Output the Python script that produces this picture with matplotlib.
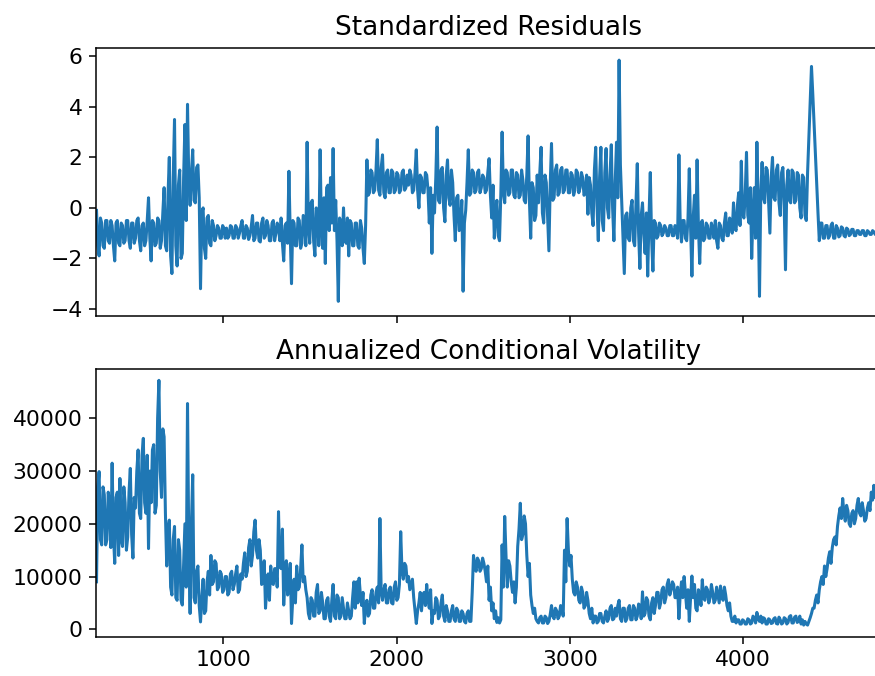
import numpy as np
import matplotlib
matplotlib.use("Agg")
import matplotlib.pyplot as plt

# observation index of first value and spacing between values
index_start = 268
index_step = 7.5

# Standardized residuals
std_resid = [
    -0.1, -1.5, -1.9, -0.4, -0.6, -1.5, -1.6, -0.5, -0.5, -1.3, -1.4, -0.5, -0.7, -1.5, -2.1, -0.6, -0.5, -1.4, -1.5, -0.6,
    -0.7, -1.4, -1.3, -0.5, -0.5, -1.3, -1.6, -0.6, -0.6, -1.4, -1.2, -0.5, -0.4, -1.3, -1.7, -0.7, -0.6, -1.5, -1.3, -0.5,
    0.4, -1.2, -2.1, -0.5, -0.6, -1.5, -1.4, -0.4, -0.5, -1.6, -1.3, -0.2, 0.8, -1.5, -1.7, 0.5, 2.0, -1.9, -2.6, 1.2,
    3.5, -1.5, -2.3, 0.9, 1.5, -2.0, -1.8, 1.2, 3.3, -0.5, 4.1, 1.0, 0.1, 1.4, 2.3, 0.3, 0.2, 1.6, 1.7, 0.4,
    -3.2, -0.2, 0.0, -1.6, -2.0, -0.4, -0.3, -1.4, -1.5, -0.5, -0.7, -1.3, -1.1, -0.7, -0.8, -1.2, -1.2, -0.7, -0.8, -1.2,
    -0.8, -1.2, -1.1, -0.7, -0.75, -1.2, -1.2, -0.7, -0.8, -1.2, -1.0, -0.7, -0.5, -1.2, -1.2, -0.7, -0.8, -1.25, -1.1, -0.75,
    -0.3, -1.3, -1.2, -0.6, -0.6, -1.3, -1.35, -0.6, -0.4, -1.2, -1.1, -0.5, -0.7, -1.3, -1.3, -0.6, -0.5, -1.3, -1.0, -0.6,
    -0.8, -1.3, -0.4, -1.4, -2.1, -0.7, -0.6, -1.4, 1.45, -1.0, -3.0, -0.5, -0.6, -1.5, -1.5, -0.4, -0.5, -1.6, -1.4, -0.3,
    -0.4, -1.5, 2.6, -0.8, -1.4, 0.2, 0.3, -1.3, -1.9, 0.0, -0.2, -1.5, 2.3, -0.8, -1.6, 0.4, -2.2, 0.8, 0.9, -0.9,
    1.2, -0.6, 2.35, -0.9, 0.3, -1.3, -3.7, -0.4, -0.6, -1.5, 0.0, -1.2, -1.4, -0.4, -1.9, -0.5, -0.6, -1.5, -1.5, -0.6,
    -0.6, -1.5, -1.6, -0.5, -0.8, -1.6, -2.2, -0.7, 1.9, 0.5, 0.6, 1.5, 1.4, 0.6, 0.7, 1.5, 2.7, 0.7, 0.5, 1.6,
    2.1, 0.6, 0.4, 1.4, 1.5, 0.6, 0.6, 1.5, 1.4, 0.6, 0.7, 1.4, 1.3, 0.6, 0.7, 1.4, 1.5, 0.7, 0.8, 1.3,
    0.9, 1.5, 1.3, 0.6, 0.7, 1.4, 2.3, 0.7, 0.0, 1.3, 1.2, 0.6, 0.6, 1.4, 1.3, 0.7, -0.6, 0.8, -1.8, 0.5,
    -0.2, 1.2, 3.2, 0.3, 0.2, 1.5, 1.6, 0.0, -0.55, 1.3, 1.9, 0.4, 0.1, 1.5, 1.0, -0.3, -1.3, 0.4, 0.5, -0.9,
    -0.8, 0.3, -3.3, -0.6, -0.1, 1.0, 2.3, 0.5, 0.6, 1.5, 1.4, 0.6, 0.7, 1.4, 1.5, 0.6, 0.8, 1.3, 1.2, 0.6,
    0.7, 1.4, 1.95, 0.5, -0.4, 0.9, -1.2, -0.2, 0.3, -1.1, -1.3, 0.5, 3.0, 0.6, 0.2, 1.5, 1.4, 0.5, 0.6, 1.5,
    1.5, 0.5, 0.4, 1.4, 1.3, 0.4, 0.5, 1.5, 1.1, 0.3, 0.2, 1.3, 2.85, 0.3, -1.2, 1.0, 0.8, -0.5, -0.3, 1.3,
    0.2, 1.4, 2.4, -0.2, -0.6, 1.3, 1.0, -0.4, -1.7, 0.9, 2.55, 0.3, 0.4, 1.5, 1.7, 0.5, 0.6, 1.5, 1.6, 0.6,
    0.7, 1.5, 1.5, 0.6, 0.6, 1.4, 1.3, 0.5, 0.7, 1.5, 1.4, 0.6, 0.8, 1.4, 1.2, 0.5, 0.6, 1.3, -0.25, 1.2,
    0.9, -0.2, -0.7, 1.5, 2.4, 0.1, -1.3, 1.2, 2.4, -0.5, -0.9, 1.4, 2.35, 0.0, -0.4, 1.3, 2.5, 0.0, -1.3, 1.0,
    2.6, 0.4, 5.85, 1.7, 0.3, -1.0, -2.6, -0.3, -0.2, -1.2, -1.3, 0.0, 0.3, -1.3, -1.5, 0.2, 1.75, -1.0, -2.4, -0.3,
    0.2, -1.0, -1.8, -0.2, -2.7, -0.4, 1.4, -1.2, -2.5, -0.5, -0.6, -1.2, -1.1, -0.6, -0.7, -1.1, -1.0, -0.7, -0.8, -1.1,
    -1.1, -0.7, -0.7, -1.1, -1.1, -0.7, -0.8, -1.2, 2.1, -0.6, -1.35, -0.5, -0.5, -1.2, -1.3, -0.4, 1.55, -0.8, -2.7, -0.4,
    0.5, -1.2, 1.9, -0.7, -2.2, -0.6, -0.5, -1.3, -1.2, -0.6, -0.7, -1.2, -1.2, -0.6, -0.8, -1.2, -0.5, -1.3, -1.6, -0.6,
    -0.7, -1.2, -1.3, -0.6, -0.2, -1.1, -1.1, -0.4, -0.5, -1.0, 0.2, -0.8, -0.9, 0.1, 0.6, -0.7, 1.85, -0.2, -0.4, 0.5,
    2.2, -0.3, -0.6, 0.8, -2.0, -0.2, 0.8, -1.2, 2.6, 0.0, -3.5, 0.6, 1.8, 0.4, 0.2, 1.6, 1.5, 0.2, -1.0, 1.2,
    2.0, 0.4, 0.3, 1.5, 1.7, 0.2, -0.3, 1.4, 1.6, 0.1, -2.45, 0.9, 1.5, 0.3, 0.2, 1.5, 1.4, 0.2, 0.3, 1.4,
    1.3, 0.0, -0.4, 1.3, 1.2, -0.3, -0.5, 1.4, 2.8, 4.2, 5.6, 4.5, 3.3, 2.2, 1.0, -0.2, -1.3, -0.6, -0.6, -1.2,
    -1.2, -0.7, -0.7, -1.2, -1.1, -0.7, -0.6, -1.2, -1.2, -0.7, -0.8, -1.15, -1.1, -0.75, -0.8, -1.1, -1.15, -0.8, -0.85, -1.1,
    -1.05, -0.85, -0.85, -1.1, -1.1, -0.9, -0.9, -1.05, -1.05, -0.9, -0.9, -1.1, -1.1, -0.9, -0.95, -1.05, -1.05, -0.9, -0.95, -1.05,
    -1.0, -0.9, -1.0, -1.05,
]

# Annualized conditional volatility
ann_vol = [
    9000, 27000, 29900, 17000, 16000, 27000, 25500, 16000, 17000, 26000, 24000, 15500, 31500, 18000, 12500, 25000, 26000, 14000, 28600, 17000,
    15700, 27000, 24000, 15000, 17500, 26000, 30500, 18000, 13500, 25000, 23000, 30000, 34000, 22000, 21000, 33000, 36200, 24000, 22000, 33000,
    15300, 30000, 24000, 34000, 35000, 22000, 23500, 40000, 47200, 30000, 25000, 38000, 36500, 22000, 12000, 19000, 20700, 8000, 6500, 17000,
    19500, 6000, 5500, 17000, 15000, 5500, 4600, 12000, 20000, 8000, 42800, 15000, 3000, 20000, 29300, 6000, 5000, 11000, 12000, 4500,
    1400, 6000, 9500, 3000, 3500, 9000, 11000, 6500, 14000, 8500, 9000, 13000, 12500, 7500, 8000, 11000, 10500, 7000, 7500, 10000,
    10000, 6500, 7000, 10500, 11000, 7500, 8500, 10500, 12000, 7000, 7500, 10500, 9500, 12500, 14500, 10000, 11000, 15500, 17000, 12000,
    14000, 18500, 20700, 15000, 13500, 17000, 15000, 8500, 9000, 13000, 4000, 8000, 10500, 5500, 12000, 9000, 8500, 11500, 11500, 8000,
    22300, 12000, 11500, 19000, 4600, 10000, 13000, 6500, 9000, 12500, 1100, 6000, 9500, 5000, 12000, 7500, 8000, 11500, 16000, 9000,
    10000, 7500, 6000, 3000, 2000, 6000, 5500, 2500, 2500, 7000, 8500, 3000, 3500, 7000, 5000, 2000, 2000, 5500, 6000, 2500,
    1500, 5500, 8500, 2500, 2000, 6500, 6000, 2000, 2500, 6000, 4000, 2000, 2000, 5000, 3500, 2000, 2500, 6000, 9000, 4000,
    9000, 5000, 9700, 6500, 4500, 7000, 1100, 4500, 5500, 2500, 3000, 6500, 7500, 4000, 4000, 7000, 8000, 5000, 21000, 7000,
    5500, 7500, 8500, 5000, 5000, 7500, 8000, 5000, 4800, 8000, 9000, 5500, 6000, 8500, 18500, 11000, 9500, 12500, 12000, 9000,
    10000, 7500, 8500, 9500, 6000, 3500, 1100, 3500, 5000, 7000, 3500, 6500, 7000, 4500, 8500, 5500, 4000, 7500, 1100, 3500,
    3000, 6000, 5500, 2000, 2500, 5000, 6500, 2500, 1500, 4500, 3500, 1500, 1500, 3500, 4500, 2000, 1500, 4000, 3500, 1500,
    1500, 3500, 3000, 1500, 1200, 3000, 3500, 1500, 1500, 7000, 14000, 12000, 11000, 13500, 13000, 11000, 11500, 13500, 12500, 11000,
    9000, 12000, 5500, 8000, 3500, 5000, 2000, 3500, 1300, 2200, 1200, 1800, 16000, 8000, 21400, 14000, 8000, 13000, 12000, 9000,
    7000, 9000, 5000, 8000, 15700, 19000, 23900, 17000, 18000, 21500, 20000, 14000, 10000, 12500, 6500, 4500, 3000, 4000, 2000, 1500,
    1200, 2200, 2500, 1200, 1200, 2500, 2200, 1100, 1500, 2800, 4500, 2500, 2000, 4000, 3500, 2000, 2500, 4500, 4000, 2500,
    15000, 9000, 21000, 15000, 12000, 14000, 9500, 7000, 6500, 9000, 8000, 5500, 5000, 8000, 7000, 4000, 4500, 7000, 5500, 3000,
    2000, 4000, 1200, 2500, 2500, 1200, 1500, 3000, 3000, 1500, 1200, 2500, 3500, 1500, 2000, 4000, 4500, 1800, 2000, 4000,
    2500, 4500, 5500, 2000, 1500, 4000, 4000, 1500, 2000, 4000, 4500, 1800, 1800, 4500, 4000, 1800, 2500, 4800, 4500, 2000,
    7100, 2500, 3000, 6000, 5500, 2500, 1800, 5000, 6000, 3000, 4500, 7000, 7000, 4000, 5000, 7500, 8000, 5000, 6000, 8500,
    9400, 6500, 7500, 9000, 8500, 6000, 6000, 8000, 2000, 6500, 9000, 6000, 10000, 7000, 4000, 7500, 1500, 6000, 10100, 6000,
    8500, 4000, 3500, 7500, 6500, 4500, 9400, 6000, 5500, 8000, 7500, 5000, 6000, 8500, 7000, 5000, 5500, 8000, 6500, 5000,
    8200, 6000, 5500, 8000, 6500, 4500, 3500, 5000, 2500, 1500, 1500, 2500, 1200, 1800, 1800, 1000, 1000, 1800, 1600, 1000,
    1000, 2000, 1800, 1000, 1200, 2500, 2200, 1200, 3200, 2000, 1500, 2500, 1200, 2200, 2000, 1000, 1000, 2000, 1800, 1100,
    1200, 2000, 2200, 1100, 1000, 2300, 1800, 1000, 1200, 2200, 2000, 1000, 1300, 2400, 2600, 1200, 1200, 2300, 2500, 1300,
    1500, 2500, 1000, 1800, 800, 1500, 1000, 800, 1500, 2200, 3000, 4000, 4000, 5500, 6500, 5000, 7500, 9000, 10000, 8500,
    12000, 10000, 11500, 13500, 14700, 12500, 15500, 17000, 17500, 16000, 19500, 21500, 23000, 21000, 24800, 22000, 20500, 23500, 22500, 20000,
    19500, 22000, 22500, 20000, 21000, 23500, 24800, 22000, 21500, 24000, 22500, 20500, 21000, 23000, 24000, 22500, 26000, 24500, 27300, 25000,
    25000, 27000, 23000, 24000,
]

x = index_start + index_step * np.arange(len(std_resid))

W, H, DPI = 875, 676, 137
fig = plt.figure(figsize=(W / DPI, H / DPI), dpi=DPI)
ax_w = 784.3 / W
ax_h = 268 / H
ax1 = fig.add_axes([96 / W, 1 - 316 / H, ax_w, ax_h])
ax2 = fig.add_axes([96 / W, 1 - 637 / H, ax_w, ax_h], sharex=ax1)

line_color = "#1f77b4"
ax1.plot(x, std_resid, color=line_color, lw=1.6)
ax2.plot(x, ann_vol, color=line_color, lw=1.6)

title_size = 13.8
tick_size = 11.5
ax1.set_title("Standardized Residuals", fontsize=title_size, pad=7)
ax2.set_title("Annualized Conditional Volatility", fontsize=title_size, pad=5)
for ax in (ax1, ax2):
    ax.tick_params(labelsize=tick_size)
ax1.tick_params(labelbottom=False)

ax1.set_xlim(265, 4790)
ax1.set_ylim(-4.28, 6.33)
ax1.set_yticks([-4, -2, 0, 2, 4, 6])
ax2.set_ylim(-1460, 49350)
ax2.set_yticks([0, 10000, 20000, 30000, 40000])
ax2.set_xticks([1000, 2000, 3000, 4000])

fig.savefig("out.png", dpi=DPI)
